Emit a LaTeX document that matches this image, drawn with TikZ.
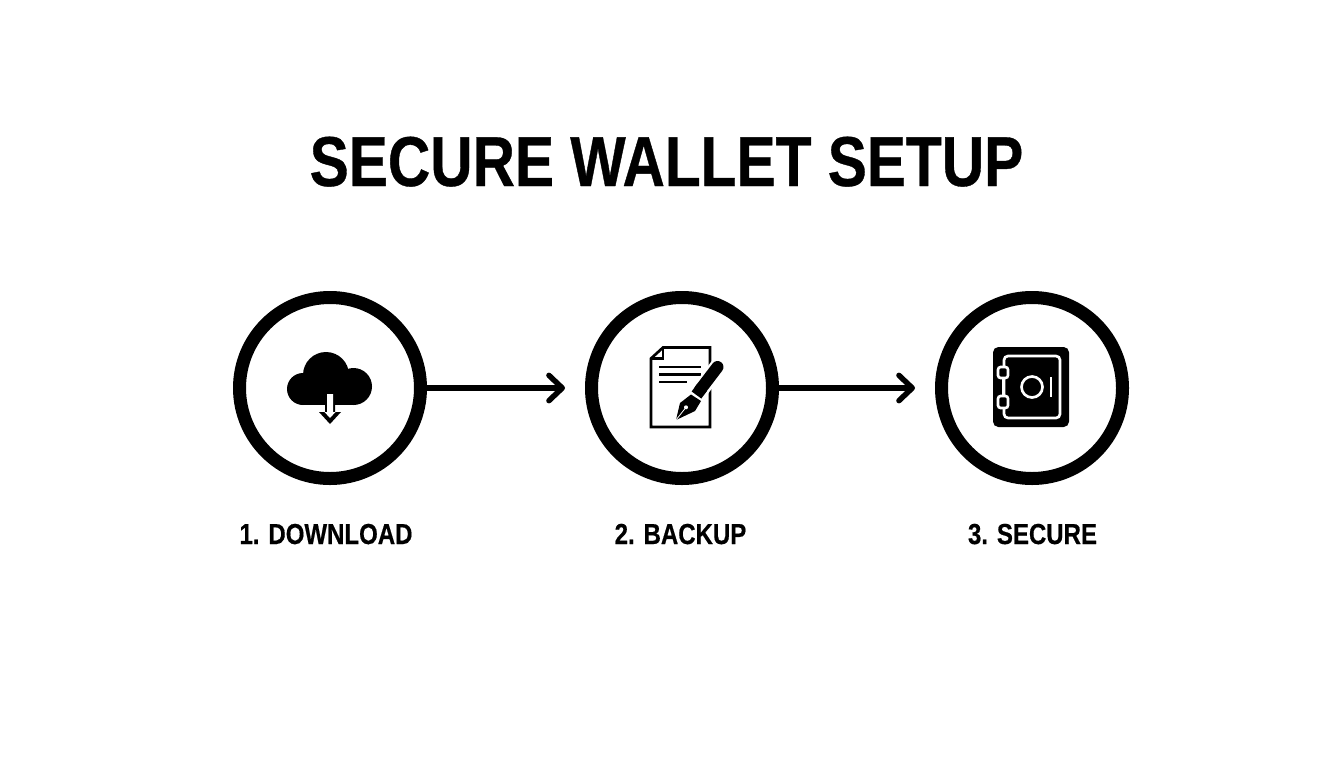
\documentclass[tikz,border=0pt]{standalone}
\usepackage{fontspec}
\usepackage{tikz}
\usetikzlibrary{arrows.meta}
\newfontfamily\titlefont[FakeStretch=0.83,FakeBold=0.5]{Liberation Sans}
\tikzset{
  stepcircle/.style={shape=circle,draw=black,line width=9.75pt,minimum size=135.75pt,inner sep=0pt},
  steplabel/.style={anchor=base,font=\titlefont\bfseries\fontsize{21.7pt}{24pt}\selectfont},
  flowarrow/.style={line width=4.1pt,shorten >=15pt,-{Straight Barb[length=10pt,width=19pt,line width=4.1pt,round]}},
  whiteline/.style={draw=white,line width=2pt,rounded corners=3pt}
}
\begin{document}
\begin{tikzpicture}[x=0.75pt,y=-0.75pt]
\useasboundingbox (0,0) rectangle (1344,768);
\node[anchor=base,font=\titlefont\bfseries\fontsize{53pt}{60pt}\selectfont] (title) at (666.5,186) {SECURE WALLET SETUP};
\node[stepcircle] (download) at (330,388) {};
\node[stepcircle] (backup) at (682,388) {};
\node[stepcircle] (secure) at (1032,388) {};
\node[steplabel] (downloadlabel) at (326,544) {1. DOWNLOAD};
\node[steplabel] (backuplabel) at (680.5,544) {2. BACKUP};
\node[steplabel] (securelabel) at (1032.5,544) {3. SECURE};
\path [flowarrow] (download) edge (backup);
\path [flowarrow] (backup) edge (secure);
% cloud
\fill (326,375) circle (23);
\fill (303,389) circle (16);
\fill (353.5,386.5) circle (18.5);
\fill (303,380) rectangle (353.5,405);
\fill (325,403) -- (335,403) -- (335,412) -- (341,412) -- (330,424) -- (319,412) -- (325,412) -- cycle;
\fill[white] (327,394) -- (333,394) -- (333,412) -- (335.5,412) -- (330,418) -- (324.5,412) -- (327,412) -- cycle;
% document
\draw[line width=2pt,line join=miter] (663,347.5) -- (710,347.5) -- (710,427) -- (651,427) -- (651,358.5) -- cycle;
\draw[line width=1.6pt] (663,347.5) -- (663,358.5) -- (651,358.5);
\draw[line width=1.9pt] (659,367) -- (701,367);
\draw[line width=1.9pt] (659,374.5) -- (701,374.5);
\draw[line width=1.9pt] (659,382) -- (687,382);
% pen
\draw[white,line width=12.5pt] (723,360) -- (686,409);
\draw[line width=9pt,line cap=round] (717.5,367) -- (700,390);
\draw[line width=9pt] (702,387.5) -- (696.5,395);
\fill (701,401) -- (691,394.5) -- (680,403) -- (676,420) -- (695,411) -- cycle;
\fill[white] (686,407.3) circle (2);
\draw[white,line width=0.6pt] (686,407.3) -- (676,420);
% safe
\fill[rounded corners=4pt] (993,347) rectangle (1069,427);
\draw[whiteline] (1004,356) rectangle (1060,418);
\draw[whiteline,rounded corners=2pt,fill=black] (998,367) rectangle (1008,378);
\draw[whiteline,rounded corners=2pt,fill=black] (998,396) rectangle (1008,408);
\draw[draw=white,line width=2pt] (1003,378) -- (1003,396);
\draw[draw=white,line width=2pt] (1032,387) circle (10.5);
\draw[draw=white,line width=2pt] (1051,377) -- (1051,397);
\end{tikzpicture}
\end{document}
